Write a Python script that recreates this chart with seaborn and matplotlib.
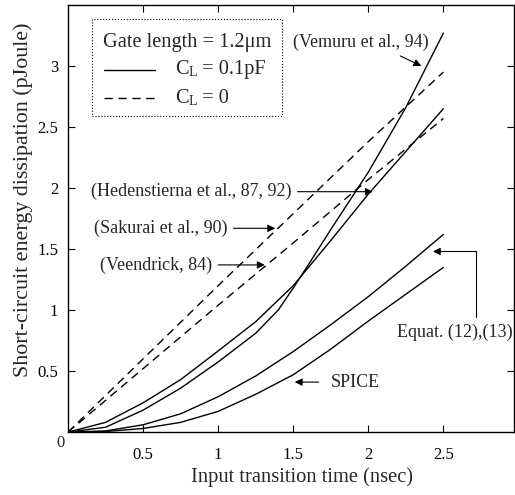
import matplotlib
matplotlib.use("Agg")
import matplotlib.pyplot as plt
import seaborn as sns
import pandas as pd
from matplotlib.lines import Line2D
from matplotlib.patches import Rectangle

# values
t_vemuru = [0, 0.25, 0.5, 0.75, 1.0, 1.25, 1.4, 1.5, 1.6, 1.75, 2.0, 2.25, 2.5]
vemuru = [0, 0.04, 0.18, 0.36, 0.575, 0.81, 1.0, 1.18, 1.37, 1.66, 2.13, 2.66, 3.27]

t_solid = [0, 0.25, 0.5, 0.75, 1.0, 1.25, 1.5, 1.75, 2.0, 2.25, 2.5]
hedenstierna = [0, 0.08, 0.24, 0.43, 0.665, 0.905, 1.20, 1.57, 1.95, 2.30, 2.65]
equat = [0, 0.01, 0.06, 0.15, 0.29, 0.46, 0.66, 0.88, 1.11, 1.36, 1.62]
spice = [0, 0.005, 0.03, 0.08, 0.17, 0.31, 0.47, 0.68, 0.91, 1.13, 1.35]

t_dashed = [0, 0.5, 1.0, 1.5, 2.0, 2.5]
sakurai = [0, 0.60, 1.20, 1.79, 2.38, 2.95]
veendrick = [0, 0.52, 1.04, 1.55, 2.07, 2.57]

x_ticks = [0.5, 1, 1.5, 2, 2.5]
x_ticklabels = ["0.5", "1", "1.5", "2", "2.5"]
y_ticks = [0.5, 1, 1.5, 2, 2.5, 3]
y_ticklabels = ["0.5", "1", "1.5", "2", "2.5", "3"]

sns.set_style("ticks")
plt.rcParams["font.family"] = ["Liberation Serif", "DejaVu Serif"]

fig = plt.figure(figsize=(5.15, 4.95), dpi=100)
ax = fig.add_axes([0.132, 0.127, 0.866, 0.863])

solid = pd.DataFrame({"t": t_solid, "heden": hedenstierna,
                      "equat": equat, "spice": spice})
dashed = pd.DataFrame({"t": t_dashed, "sakurai": sakurai, "veendrick": veendrick})

sns.lineplot(x=t_vemuru, y=vemuru, ax=ax, color="black", lw=1.0)
for col in ["heden", "equat", "spice"]:
    sns.lineplot(data=solid, x="t", y=col, ax=ax, color="black", lw=1.0)
for col in ["sakurai", "veendrick"]:
    sns.lineplot(data=dashed, x="t", y=col, ax=ax, color="black", lw=1.0,
                 linestyle=(0, (6, 4)))

ax.set_xlim(0, 2.97)
ax.set_ylim(0, 3.5)
ax.set_xticks(x_ticks)
ax.set_xticklabels(x_ticklabels)
ax.set_yticks(y_ticks)
ax.set_yticklabels(y_ticklabels)
ax.tick_params(direction="in", length=5, width=0.8, top=True, right=True,
               labelsize=12, color="black", labelcolor="black")
ax.tick_params(axis="x", pad=11)
ax.tick_params(axis="y", pad=7)
for s in ax.spines.values():
    s.set_linewidth(1.0)
    s.set_color("black")
ax.text(-0.05, -0.09, "0", fontsize=12, ha="center", va="center", clip_on=False)

ax.set_xlabel("Input transition time (nsec)", fontsize=14.8)
ax.set_ylabel("Short-circuit energy dissipation (pJoule)", fontsize=15.8)
ax.xaxis.set_label_coords(0.525, -0.083)
ax.yaxis.set_label_coords(-0.078, 0.543)

# legend box drawn by hand
ax.add_patch(Rectangle((0.054, 0.740), 0.426, 0.227, transform=ax.transAxes,
                       fill=False, linestyle=":", lw=0.8, edgecolor="black"))
ax.text(0.078, 0.911, "Gate length = 1.2μm", transform=ax.transAxes,
        fontsize=14.7, va="center", ha="left")
ax.add_line(Line2D([0.081, 0.195], [0.848, 0.848], transform=ax.transAxes,
                   color="black", lw=1.0))
ax.add_line(Line2D([0.081, 0.195], [0.782, 0.782], transform=ax.transAxes,
                   color="black", lw=1.0, linestyle=(0, (6, 4))))
for yy, rest in [(0.848, " = 0.1pF"), (0.782, " = 0")]:
    c = ax.text(0.240, yy, "C", transform=ax.transAxes, fontsize=14.7,
                va="center", ha="left")
    sub = ax.annotate("L", xy=(1, 0), xycoords=c, fontsize=10,
                      va="bottom", ha="left")
    ax.annotate(rest, xy=(1, 0), xycoords=sub, fontsize=14.7,
                va="bottom", ha="left")

arrow = dict(arrowstyle="-|>", color="black", lw=0.8, mutation_scale=11,
             shrinkA=2, shrinkB=0)
fs = 13
ax.annotate("(Vemuru et al., 94)", xy=(2.353, 3.0), xytext=(1.5, 3.19),
            fontsize=fs, ha="left", va="center",
            arrowprops=dict(arrow, relpos=(0.72, 0)))
ax.annotate("(Hedenstierna et al., 87, 92)", xy=(2.03, 1.97), xytext=(0.153, 1.97),
            fontsize=fs, ha="left", va="center",
            arrowprops=dict(arrow, relpos=(1, 0.5)))
ax.annotate("(Sakurai et al., 90)", xy=(1.38, 1.67), xytext=(0.173, 1.67),
            fontsize=fs, ha="left", va="center",
            arrowprops=dict(arrow, relpos=(1, 0.5)))
ax.annotate("(Veendrick, 84)", xy=(1.31, 1.37), xytext=(0.213, 1.37),
            fontsize=fs, ha="left", va="center",
            arrowprops=dict(arrow, relpos=(1, 0.5)))
ax.annotate("SPICE", xy=(1.51, 0.41), xytext=(1.747, 0.41),
            fontsize=fs, ha="left", va="center",
            arrowprops=dict(arrow, relpos=(0, 0.5), shrinkA=6))
ax.annotate("Equat. (12),(13)", xy=(2.43, 1.48), xytext=(2.193, 0.82),
            fontsize=fs, ha="left", va="center", annotation_clip=False,
            arrowprops=dict(arrow, relpos=(0.68, 1),
                            connectionstyle="angle,angleA=90,angleB=0,rad=0"))

fig.savefig("out.png", dpi=100)
